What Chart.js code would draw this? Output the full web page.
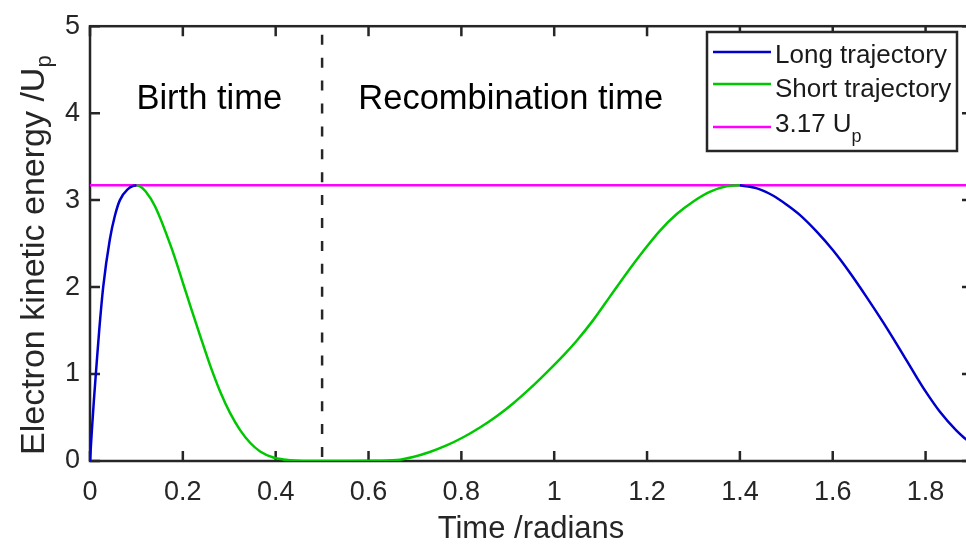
<!DOCTYPE html>
<html>
<head>
<meta charset="utf-8">
<script src="https://cdn.jsdelivr.net/npm/chart.js@4.4.0/dist/chart.umd.min.js"></script>
<style>
  html, body { margin: 0; padding: 0; background: #fff; overflow: hidden; }
  #wrap { width: 966px; height: 548px; overflow: hidden; }
</style>
</head>
<body>
<div id="wrap"><canvas id="energyChart" width="980" height="548"></canvas></div>
<script>
const xTicks = [0, 0.2, 0.4, 0.6, 0.8, 1, 1.2, 1.4, 1.6, 1.8];
const yTicks = [0, 1, 2, 3, 4, 5];

// long trajectory, birth branch
const longBirthX = [0, 0.004, 0.0084, 0.014, 0.0198, 0.0284, 0.0428, 0.0536, 0.0644, 0.0822, 0.094, 0.1];
const longBirthY = [0, 0.35, 0.7, 1.1, 1.5, 2.0, 2.55, 2.82, 3.0, 3.13, 3.165, 3.17];
// long trajectory, recombination branch
const longRecX = [1.4, 1.44, 1.472, 1.5, 1.529, 1.565, 1.601, 1.637, 1.673, 1.708, 1.744, 1.78, 1.8, 1.83, 1.866, 1.886, 1.9];
const longRecY = [3.17, 3.13, 3.05, 2.95, 2.83, 2.64, 2.42, 2.165, 1.885, 1.6, 1.29, 0.97, 0.8, 0.572, 0.352, 0.254, 0.192];
// short trajectory: birth branch then recombination branch (they meet at 0.5)
const shortX = [0.1, 0.106, 0.12, 0.14, 0.1755, 0.2043, 0.2157, 0.2373, 0.2588, 0.2803, 0.3019, 0.3234, 0.3449, 0.3665, 0.395, 0.416, 0.45, 0.5,
                0.55, 0.6, 0.661, 0.696, 0.732, 0.768, 0.804, 0.84, 0.876, 0.912, 0.948, 0.984, 1.02, 1.048, 1.084, 1.12, 1.156, 1.192, 1.228, 1.264, 1.299, 1.335, 1.371, 1.4];
const shortY = [3.17, 3.165, 3.1, 2.93, 2.45, 1.98, 1.79, 1.44, 1.1, 0.8, 0.55, 0.355, 0.21, 0.11, 0.04, 0.018, 0.004, 0,
                0, 0.002, 0.012, 0.047, 0.104, 0.179, 0.273, 0.385, 0.515, 0.665, 0.835, 1.02, 1.215, 1.38, 1.62, 1.89, 2.16, 2.415, 2.65, 2.84, 2.982, 3.095, 3.159, 3.17];
const cutoffX = [0, 1.9];
const cutoffY = [3.17, 3.17];
const splitX = [0.5, 0.5];
const splitY = [0, 5];

const legendItems = [
  { text: 'Long trajectory', sub: '', color: '#0000cc' },
  { text: 'Short trajectory', sub: '', color: '#00c800' },
  { text: '3.17 U', sub: 'p', color: '#ff00ff' }
];
const notes = [
  { text: 'Birth time', x: 0.1, y: 4.047 },
  { text: 'Recombination time', x: 0.578, y: 4.047 }
];

const FONT = "'Liberation Sans', Arial, sans-serif";
Chart.defaults.font.family = FONT;
const AXIS = '#262626';

const pts = (xs, ys) => xs.map((x, i) => ({ x: x, y: ys[i] }));
const curve = (label, xs, ys, color, extra) => Object.assign({
  label: label, data: pts(xs, ys), borderColor: color, borderWidth: 2.5,
  pointRadius: 0, fill: false, cubicInterpolationMode: 'monotone'
}, extra || {});

const boxPlugin = {
  id: 'box',
  beforeDatasetsDraw(chart) {
    const { ctx, chartArea: a, scales: { x, y } } = chart;
    ctx.save();
    ctx.strokeStyle = AXIS;
    ctx.lineWidth = 2.5;
    ctx.strokeRect(a.left, a.top, a.right - a.left, a.bottom - a.top);
    ctx.beginPath();
    xTicks.forEach(v => {
      const px = x.getPixelForValue(v);
      ctx.moveTo(px, a.bottom); ctx.lineTo(px, a.bottom - 10);
      ctx.moveTo(px, a.top); ctx.lineTo(px, a.top + 10);
    });
    yTicks.forEach(v => {
      const py = y.getPixelForValue(v);
      ctx.moveTo(a.left, py); ctx.lineTo(a.left + 10, py);
      ctx.moveTo(a.right, py); ctx.lineTo(a.right - 10, py);
    });
    ctx.stroke();
    ctx.restore();
  },
  afterDraw(chart) {
    const { ctx, scales: { x, y } } = chart;
    ctx.save();

    // y axis title with subscript, reads bottom to top
    ctx.fillStyle = AXIS;
    ctx.translate(44, 455);
    ctx.rotate(-Math.PI / 2);
    const main = 'Electron kinetic energy /U';
    ctx.textBaseline = 'alphabetic';
    ctx.textAlign = 'left';
    ctx.font = '34px ' + FONT;
    const wMain = ctx.measureText(main).width;
    ctx.fillText(main, 0, 0);
    ctx.font = '22px ' + FONT;
    ctx.fillText('p', wMain, 7);
    ctx.setTransform(1, 0, 0, 1, 0, 0);

    // text annotations
    ctx.fillStyle = '#000';
    ctx.font = '34.5px ' + FONT;
    notes.forEach(n => ctx.fillText(n.text, x.getPixelForValue(n.x), y.getPixelForValue(n.y)));

    // legend
    const L = { left: 707, top: 32, width: 250, height: 119 };
    ctx.fillStyle = '#fff';
    ctx.fillRect(L.left, L.top, L.width, L.height);
    ctx.strokeStyle = AXIS;
    ctx.lineWidth = 2.5;
    ctx.strokeRect(L.left, L.top, L.width, L.height);
    const lineY = [52, 84, 127];
    const baseY = [63, 96.5, 131.5];
    legendItems.forEach((it, i) => {
      ctx.strokeStyle = it.color;
      ctx.lineWidth = 2.5;
      ctx.beginPath();
      ctx.moveTo(713, lineY[i]); ctx.lineTo(771, lineY[i]);
      ctx.stroke();
      ctx.fillStyle = '#1a1a1a';
      ctx.font = '26px ' + FONT;
      ctx.fillText(it.text, 775, baseY[i]);
      if (it.sub) {
        const w = ctx.measureText(it.text).width;
        ctx.font = '18px ' + FONT;
        ctx.fillText(it.sub, 775 + w, baseY[i] + 10);
      }
    });
    ctx.restore();
  }
};

new Chart(document.getElementById('energyChart').getContext('2d'), {
  type: 'line',
  data: {
    datasets: [
      curve('split', splitX, splitY, '#262626', { borderDash: [10, 12.9], borderDashOffset: 18.9, cubicInterpolationMode: 'default', tension: 0 }),
      curve('Long trajectory', longBirthX, longBirthY, '#0000cc'),
      curve('Long trajectory', longRecX, longRecY, '#0000cc'),
      curve('Short trajectory', shortX, shortY, '#00c800'),
      curve('3.17 Up', cutoffX, cutoffY, '#ff00ff', { cubicInterpolationMode: 'default', tension: 0 })
    ]
  },
  options: {
    responsive: false,
    animation: false,
    devicePixelRatio: 1,
    layout: { padding: { left: 0, right: 8, top: 17, bottom: 0 } },
    plugins: { legend: { display: false }, tooltip: { enabled: false } },
    scales: {
      x: {
        type: 'linear', min: 0, max: 1.9,
        afterBuildTicks: s => { s.ticks = xTicks.map(v => ({ value: v })); },
        afterFit: s => { s.height = 87; },
        grid: { display: false, drawTicks: false },
        border: { display: false },
        ticks: { color: AXIS, font: { size: 27 }, padding: 15, maxRotation: 0, autoSkip: false,
                 callback: v => String(Math.round(v * 10) / 10) },
        title: { display: true, text: 'Time /radians', color: AXIS, font: { size: 31 }, padding: 0 }
      },
      y: {
        type: 'linear', min: 0, max: 5,
        afterBuildTicks: s => { s.ticks = yTicks.map(v => ({ value: v })); },
        afterFit: s => { s.width = 90; },
        grid: { display: false, drawTicks: false },
        border: { display: false },
        ticks: { color: AXIS, font: { size: 27 }, padding: 10 }
      }
    }
  },
  plugins: [boxPlugin]
});
</script>
</body>
</html>
